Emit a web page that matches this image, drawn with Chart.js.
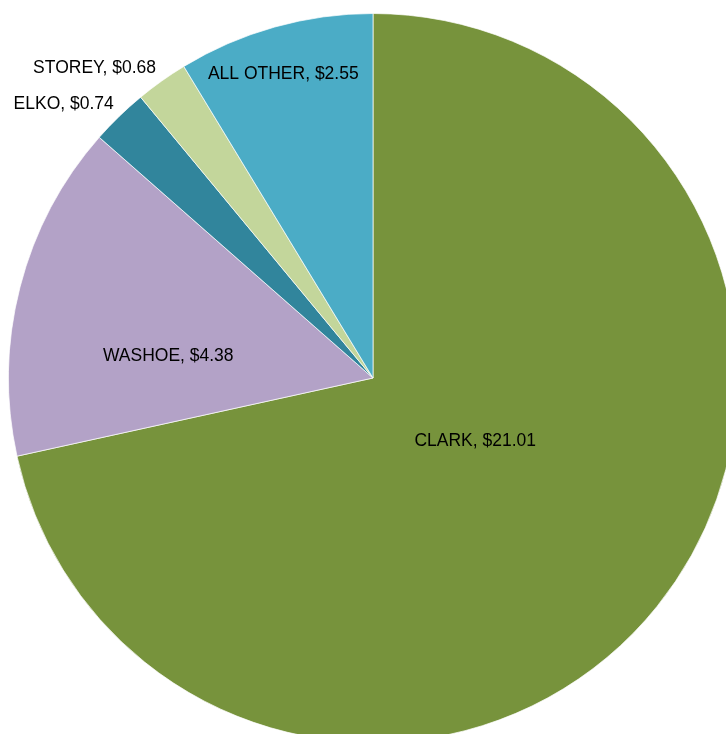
<!DOCTYPE html>
<html>
<head>
<meta charset="utf-8">
<script src="https://cdn.jsdelivr.net/npm/chart.js@4/dist/chart.umd.min.js"></script>
<style>
  html, body { margin: 0; padding: 0; background: #fff; overflow: hidden; width: 726px; height: 734px; }
  #wrap { position: absolute; left: 8px; top: 13px; width: 730px; height: 730px; }
</style>
</head>
<body>
<div id="wrap"><canvas id="pie" width="730" height="730"></canvas></div>
<script>
const counties = ['CLARK', 'WASHOE', 'ELKO', 'STOREY', 'ALL OTHER'];
const amounts = [21.01, 4.38, 0.74, 0.68, 2.55];
const sliceColors = ['#77933C', '#B3A2C7', '#31859C', '#C3D69B', '#4BACC6'];

// label placement: fraction of radius from center, and angle shift (deg) from slice middle
const labelRadius = [0.33, 0.565, 1.134, 1.143, 0.87];
const labelShift = [-7, -8.3, -4.3, -6.5, -0.8];

const labelPlugin = {
  id: 'sliceLabels',
  afterDatasetsDraw(chart) {
    const ctx = chart.ctx;
    const arcs = chart.getDatasetMeta(0).data;
    ctx.save();
    ctx.font = '17.5px "Liberation Sans", Arial, sans-serif';
    ctx.fillStyle = '#000';
    ctx.textAlign = 'center';
    ctx.textBaseline = 'middle';
    arcs.forEach((arc, i) => {
      const p = arc.getProps(['x', 'y', 'startAngle', 'endAngle', 'outerRadius'], true);
      const mid = (p.startAngle + p.endAngle) / 2 + labelShift[i] * Math.PI / 180;
      const r = p.outerRadius * labelRadius[i];
      const x = p.x + Math.cos(mid) * r;
      const y = p.y + Math.sin(mid) * r;
      ctx.fillText(counties[i] + ', $' + amounts[i].toFixed(2), x, y);
    });
    ctx.restore();
  }
};

new Chart(document.getElementById('pie').getContext('2d'), {
  type: 'pie',
  data: {
    labels: counties,
    datasets: [{
      data: amounts,
      backgroundColor: sliceColors,
      borderColor: 'rgba(255,255,255,0.7)',
      borderWidth: 1
    }]
  },
  options: {
    responsive: false,
    animation: false,
    layout: { padding: 0 },
    plugins: {
      legend: { display: false },
      tooltip: { enabled: false }
    }
  },
  plugins: [labelPlugin]
});
</script>
</body>
</html>
